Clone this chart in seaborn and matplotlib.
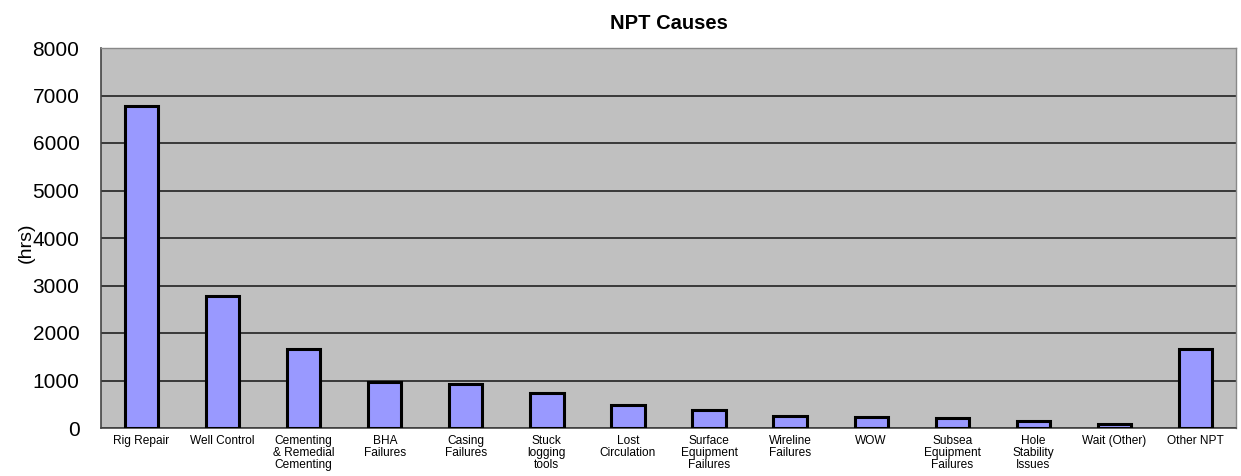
import matplotlib
matplotlib.use("Agg")
import matplotlib.pyplot as plt
import seaborn as sns
import numpy as np
import pandas as pd
from matplotlib.ticker import FixedLocator

categories = [
    "Rig Repair", "Well Control", "Cementing\n& Remedial\nCementing", "BHA\nFailures",
    "Casing\nFailures", "Stuck\nlogging\ntools", "Lost\nCirculation",
    "Surface\nEquipment\nFailures", "Wireline\nFailures", "WOW",
    "Subsea\nEquipment\nFailures", "Hole\nStability\nIssues", "Wait (Other)", "Other NPT",
]
hours = [6780, 2780, 1665, 970, 930, 745, 485, 380, 262, 238, 210, 140, 92, 1658]
y_ticks = [0, 1000, 2000, 3000, 4000, 5000, 6000, 7000, 8000]

df = pd.DataFrame({"cause": categories, "hrs": hours})

sns.set_style("white")
plt.rcParams["font.family"] = ["Liberation Sans", "DejaVu Sans"]
plt.rcParams["text.color"] = "black"
plt.rcParams["xtick.color"] = "black"
plt.rcParams["ytick.color"] = "black"
plt.rcParams["axes.labelcolor"] = "black"

fig = plt.figure(figsize=(12.41, 4.76), dpi=100)
ax = fig.add_axes([101 / 1241, 1 - 428 / 476, (1236 - 101) / 1241, (428 - 48) / 476])
ax.set_facecolor("#C0C0C0")
ax.set_axisbelow(True)

sns.barplot(data=df, x="cause", y="hrs", color="#9999FF", saturation=1,
            width=0.41, edgecolor="black", linewidth=2.2, ax=ax, zorder=3)

ax.set_ylim(0, 8000)
ax.set_xlim(-0.5, len(categories) - 0.5)
ax.set_yticks(y_ticks)
ax.set_yticklabels([str(v) for v in y_ticks], fontsize=15)
ax.yaxis.grid(True, color="#222222", linewidth=1.2)
ax.tick_params(axis="y", length=4.5, width=1.2, color="#444444", pad=11)

ax.set_xticks(np.arange(len(categories)))
ax.set_xticklabels(categories, fontsize=8.6, linespacing=1.02)
ax.tick_params(axis="x", which="major", length=0, pad=5)
ax.xaxis.set_minor_locator(FixedLocator(np.arange(-0.5, len(categories), 1.0)))
ax.tick_params(axis="x", which="minor", length=5, width=1.0, color="#444444")

for side in ["top", "right"]:
    ax.spines[side].set_color("#888888")
    ax.spines[side].set_linewidth(1.0)
for side in ["left", "bottom"]:
    ax.spines[side].set_color("#444444")
    ax.spines[side].set_linewidth(1.2)

ax.set_xlabel("")
ax.set_ylabel("(hrs)", fontsize=14)
ax.yaxis.set_label_coords((35 - 101) / 1135, (428 - 243) / 380)
ax.set_title("NPT Causes", fontsize=14.5, fontweight="bold", pad=14)

fig.savefig("out.png", dpi=100)
